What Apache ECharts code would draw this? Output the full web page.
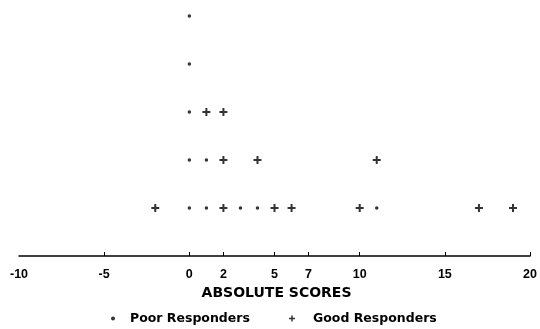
<!DOCTYPE html>
<html>
<head>
<meta charset="utf-8">
<script src="https://cdn.jsdelivr.net/npm/echarts@6/dist/echarts.min.js"></script>
<style>
  html, body { margin: 0; padding: 0; background: #fff; }
  #chart { width: 540px; height: 329px; }
</style>
</head>
<body>
<div id="chart"></div>
<script>
// individual absolute scores, one entry per patient
const poorScores = [0, 0, 0, 0, 0, 1, 1, 3, 4, 11]
const goodScores = [-2, 1, 2, 2, 2, 4, 5, 6, 10, 11, 17, 19]
// tick labels on the score axis
const tickLabels = [-10, -5, 0, 2, 5, 7, 10, 15, 20]
const tickMarks = [-5, 0, 2, 5, 7, 10, 15, 20]

// stack the dots: poor responders first, good ones on top
const heights = {}
function stack (scores) {
  return scores.map(function (s) {
    heights[s] = (heights[s] || 0) + 1
    return [s, heights[s]]
  })
}
const poorPoints = stack(poorScores)
const goodPoints = stack(goodScores)

const plus = 'path://M3,0H5V3H8V5H5V8H3V5H0V3H3Z'
const font = 'Liberation Sans'
const wideFont = 'DejaVu Sans'

const myChart = echarts.init(document.getElementById('chart'))
myChart.setOption({
  animation: false,
  textStyle: { fontFamily: font },
  grid: { left: 19, right: 7, top: 16, bottom: 73 },
  xAxis: {
    type: 'value',
    min: -10,
    max: 20,
    splitLine: { show: false },
    axisLine: { lineStyle: { color: '#000', width: 1.5 } },
    axisTick: { show: true, inside: true, length: 4, customValues: tickMarks, lineStyle: { color: '#000' } },
    axisLabel: {
      customValues: tickLabels,
      color: '#000',
      fontSize: 12.5,
      fontWeight: 'bold',
      fontFamily: font,
      margin: 12
    },
    name: 'ABSOLUTE SCORES',
    nameLocation: 'middle',
    nameGap: 30,
    nameTextStyle: { color: '#000', fontSize: 14, fontWeight: 'bold', fontFamily: wideFont, padding: [0, 0, 0, 4] }
  },
  yAxis: { type: 'value', min: 0, max: 5, show: false },
  // two legends so each marker keeps its own size
  legend: [
    {
      top: 307,
      left: 106,
      itemWidth: 4,
      itemHeight: 4,
      textStyle: { color: '#000', fontSize: 12.5, fontWeight: 'bold', fontFamily: wideFont, padding: [0, 0, 0, 10] },
      data: [{ name: 'Poor Responders', icon: 'circle', itemStyle: { color: '#000' } }]
    },
    {
      top: 307,
      left: 284,
      itemWidth: 6,
      itemHeight: 6,
      textStyle: { color: '#000', fontSize: 12.5, fontWeight: 'bold', fontFamily: wideFont, padding: [0, 0, 0, 13] },
      data: [{ name: 'Good Responders', icon: plus, itemStyle: { color: '#000' } }]
    }
  ],
  series: [
    {
      name: 'Poor Responders',
      type: 'scatter',
      symbol: 'circle',
      symbolSize: 3.5,
      itemStyle: { color: '#000' },
      data: poorPoints
    },
    {
      name: 'Good Responders',
      type: 'scatter',
      symbol: plus,
      symbolSize: 8,
      itemStyle: { color: '#000' },
      data: goodPoints
    }
  ]
})
</script>
</body>
</html>
